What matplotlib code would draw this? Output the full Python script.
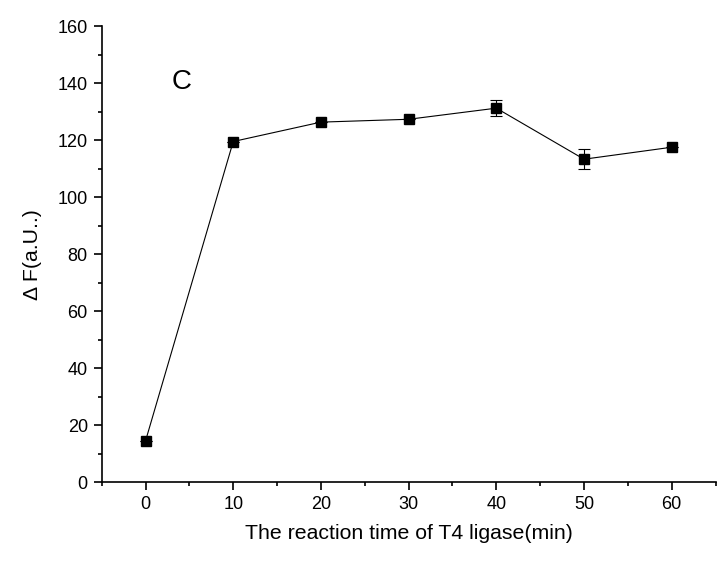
import matplotlib
matplotlib.use("Agg")
import matplotlib.pyplot as plt
from matplotlib.ticker import MultipleLocator

plt.rcParams['font.family'] = ['Liberation Sans', 'DejaVu Sans']

time_min = [0, 10, 20, 30, 40, 50, 60]
delta_f = [14.5, 119.5, 126.3, 127.3, 131.2, 113.3, 117.5]
err = [0, 0, 0, 0, 2.7, 3.6, 0]

fig = plt.figure(figsize=(7.17, 5.62), dpi=100)
ax = fig.add_axes([0.1418, 0.1418, 0.8562, 0.8119])

ax.errorbar(time_min, delta_f, yerr=err, color='black', marker='s', markersize=7,
            linewidth=0.8, elinewidth=0.8, capsize=4, capthick=0.8)

ax.set_xlim(-5, 65)
ax.set_ylim(0, 160)
ax.xaxis.set_major_locator(MultipleLocator(10))
ax.xaxis.set_minor_locator(MultipleLocator(5))
ax.yaxis.set_major_locator(MultipleLocator(20))
ax.yaxis.set_minor_locator(MultipleLocator(10))
ax.spines['top'].set_visible(False)
ax.spines['right'].set_visible(False)
for s in ('left', 'bottom'):
    ax.spines[s].set_linewidth(1.2)
ax.tick_params(which='major', direction='out', length=6, width=1.2, labelsize=13, pad=4)
ax.tick_params(which='minor', direction='out', length=3, width=1.2)

ax.set_xlabel('The reaction time of T4 ligase(min)', fontsize=15.3, labelpad=8)
ax.set_ylabel('Δ F(a.U..)', fontsize=15.3, labelpad=11)
ax.text(3.0, 140.5, 'C', fontsize=20, va='center')

fig.savefig('out.png', dpi=100)
